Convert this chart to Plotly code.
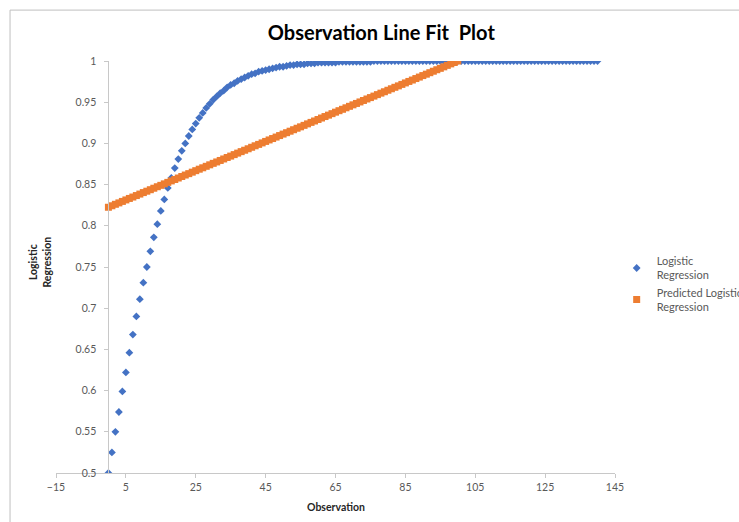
import plotly.graph_objects as go

# Observation numbers
obs_logistic = list(range(0, 141))
obs_predicted = list(range(0, 101))

# Logistic Regression values
logistic = [
    0.500, 0.525, 0.550, 0.574, 0.599, 0.622, 0.646, 0.668, 0.690, 0.711,
    0.731, 0.750, 0.769, 0.786, 0.802, 0.818, 0.832, 0.846, 0.858, 0.870,
    0.881, 0.891, 0.900, 0.909, 0.917, 0.924, 0.931, 0.937, 0.943, 0.948,
    0.953, 0.957, 0.961, 0.964, 0.968, 0.971, 0.973, 0.976, 0.978, 0.980,
    0.982, 0.984, 0.985, 0.987, 0.988, 0.989, 0.990, 0.991, 0.992, 0.993,
    0.993, 0.994, 0.995, 0.995, 0.996, 0.996, 0.996, 0.997, 0.997, 0.997,
    0.998, 0.998, 0.998, 0.998, 0.998, 0.998, 0.999, 0.999, 0.999, 0.999,
    0.999, 0.999, 0.999, 0.999, 0.999, 0.999, 1.000, 1.000, 1.000, 1.000,
    1.000, 1.000, 1.000, 1.000, 1.000, 1.000, 1.000, 1.000, 1.000, 1.000,
    1.000, 1.000, 1.000, 1.000, 1.000, 1.000, 1.000, 1.000, 1.000, 1.000,
    1.000, 1.000, 1.000, 1.000, 1.000, 1.000, 1.000, 1.000, 1.000, 1.000,
    1.000, 1.000, 1.000, 1.000, 1.000, 1.000, 1.000, 1.000, 1.000, 1.000,
    1.000, 1.000, 1.000, 1.000, 1.000, 1.000, 1.000, 1.000, 1.000, 1.000,
    1.000, 1.000, 1.000, 1.000, 1.000, 1.000, 1.000, 1.000, 1.000, 1.000,
    1.000,
]

# Predicted Logistic Regression values
predicted = [
    0.8225, 0.8243, 0.8261, 0.8278, 0.8296, 0.8314, 0.8332, 0.8349, 0.8367, 0.8385,
    0.8403, 0.8420, 0.8438, 0.8456, 0.8474, 0.8491, 0.8509, 0.8527, 0.8545, 0.8562,
    0.8580, 0.8598, 0.8616, 0.8633, 0.8651, 0.8669, 0.8687, 0.8704, 0.8722, 0.8740,
    0.8758, 0.8775, 0.8793, 0.8811, 0.8829, 0.8846, 0.8864, 0.8882, 0.8900, 0.8917,
    0.8935, 0.8953, 0.8971, 0.8988, 0.9006, 0.9024, 0.9042, 0.9059, 0.9077, 0.9095,
    0.9113, 0.9130, 0.9148, 0.9166, 0.9184, 0.9201, 0.9219, 0.9237, 0.9255, 0.9272,
    0.9290, 0.9308, 0.9326, 0.9343, 0.9361, 0.9379, 0.9397, 0.9414, 0.9432, 0.9450,
    0.9468, 0.9485, 0.9503, 0.9521, 0.9539, 0.9556, 0.9574, 0.9592, 0.9610, 0.9627,
    0.9645, 0.9663, 0.9681, 0.9698, 0.9716, 0.9734, 0.9752, 0.9769, 0.9787, 0.9805,
    0.9823, 0.9840, 0.9858, 0.9876, 0.9894, 0.9911, 0.9929, 0.9947, 0.9965, 0.9982,
    1.0000,
]

x_ticks = [-15, 5, 25, 45, 65, 85, 105, 125, 145]
y_ticks = [0.5, 0.55, 0.6, 0.65, 0.7, 0.75, 0.8, 0.85, 0.9, 0.95, 1]
y_ticktext = ["0.5", "0.55", "0.6", "0.65", "0.7", "0.75", "0.8", "0.85", "0.9", "0.95", "1"]

FONT = "Lato, 'Open Sans', sans-serif"
GREY_TXT = "#595959"
AXIS = "#C8C8C8"

fig = go.Figure()
fig.add_trace(go.Scatter(
    x=obs_logistic, y=logistic, mode="markers", name="Logistic<br>Regression",
    marker=dict(symbol="diamond", size=6, color="#4472C4"),
))
fig.add_trace(go.Scatter(
    x=obs_predicted, y=predicted, mode="markers", name="Predicted Logistic<br>Regression",
    marker=dict(symbol="square", size=7, color="#ED7D31"),
))

fig.update_layout(
    width=739, height=522,
    margin=dict(l=55.5, r=123.5, t=60.5, b=48.7, autoexpand=False),
    paper_bgcolor="white", plot_bgcolor="white",
    font=dict(family=FONT, color=GREY_TXT, size=10),
    title=dict(text="<b>Observation Line Fit \u00a0Plot</b>", xref="paper", x=0.582, xanchor="center",
               yref="container", y=1 - 33 / 522, yanchor="middle",
               font=dict(family=FONT, size=20, color="#000000")),
    xaxis=dict(range=[-15, 145], tickvals=x_ticks, showgrid=False, zeroline=False,
               showline=True, linecolor=AXIS, linewidth=1, ticks="outside", ticklen=4,
               tickcolor=AXIS, tickfont=dict(size=10.5, color=GREY_TXT)),
    yaxis=dict(range=[0.5, 1], tickvals=y_ticks, ticktext=y_ticktext, showgrid=False,
               zeroline=False, showline=True, linecolor=AXIS, linewidth=1,
               ticks="outside", ticklen=4, tickcolor=AXIS, anchor="free",
               position=15 / 160, ticklabelstandoff=6,
               tickfont=dict(size=10.5, color=GREY_TXT)),
    legend=dict(x=1.003, xanchor="left", y=0.548, yanchor="top",
                font=dict(family=FONT, size=11, color=GREY_TXT),
                itemwidth=30, tracegroupgap=5, bgcolor="rgba(0,0,0,0)"),
    showlegend=True,
)

fig.add_annotation(text="<b>Observation</b>", xref="paper", yref="paper",
                   x=0.501, y=-0.0816, xanchor="center", yanchor="middle",
                   showarrow=False, font=dict(family=FONT, size=10.5, color="#262626"))
fig.add_annotation(text="<b>Logistic<br>Regression</b>", xref="paper", yref="paper",
                   x=-0.0277, y=0.512, xanchor="center", yanchor="middle", textangle=-90,
                   showarrow=False, font=dict(family=FONT, size=10.5, color="#262626"))

# Chart area frame (left and top edges visible)
fx = (9.5 - 55.5) / 559.5
fy = (473.3 - 9.5) / 412.8
fig.add_shape(type="line", xref="paper", yref="paper", x0=fx, x1=fx, y0=-0.2, y1=fy,
              line=dict(color="#BFBFBF", width=1))
fig.add_shape(type="line", xref="paper", yref="paper", x0=fx, x1=1.3, y0=fy, y1=fy,
              line=dict(color="#BFBFBF", width=1))

fig.write_html("out.html")
